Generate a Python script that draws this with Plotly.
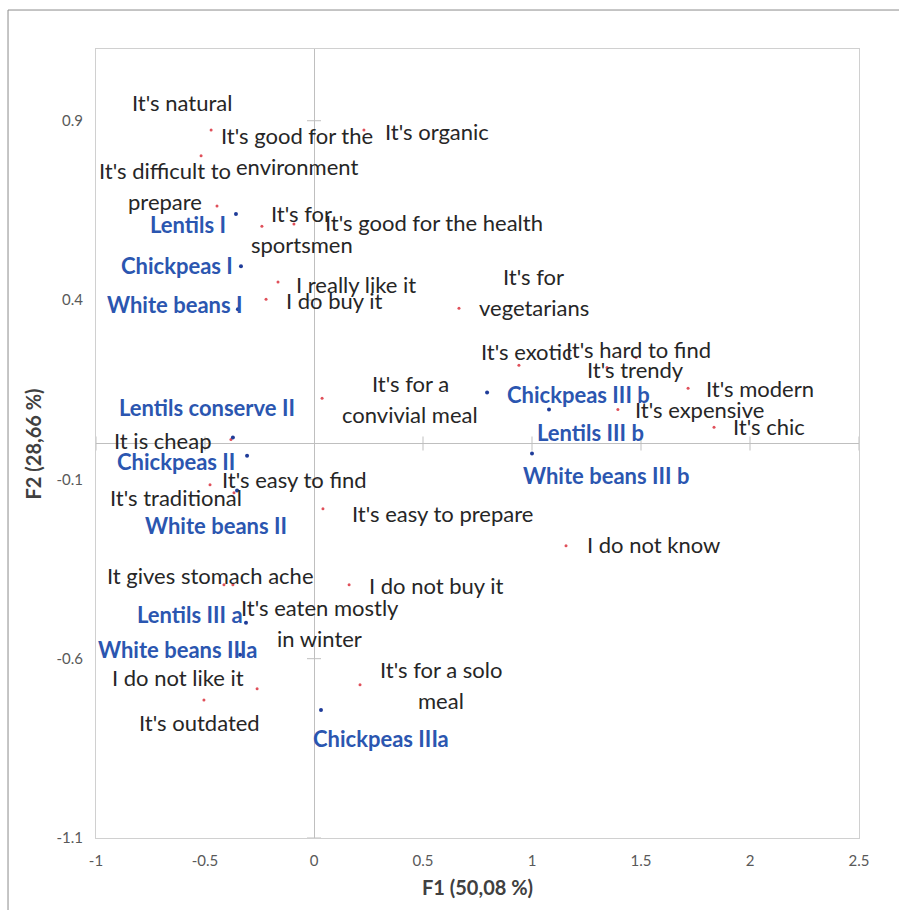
import plotly.graph_objects as go

# ---------------- data ----------------
attr_names = [
    "It's natural", "It's good for the\nenvironment", "It's organic",
    "It's difficult to\nprepare", "It's for\nsportsmen", "It's good for the health",
    "I really like it", "I do buy it", "It's for\nvegetarians",
    "It's exotic", "It's hard to find", "It's trendy", "It's modern",
    "It's expensive", "It's chic", "It's for a\nconvivial meal",
    "It is cheap", "It's easy to find", "It's traditional",
    "It's easy to prepare", "I do not know", "It gives stomach ache",
    "It's eaten mostly\nin winter", "I do not buy it", "I do not like it",
    "It's for a solo\nmeal", "It's outdated",
]
attr_x = [-0.518, -0.472, 0.229, -0.445, -0.239, -0.092, -0.165, -0.220, 0.665,
          0.940, 1.477, 1.344, 1.716, 1.394, 1.835, 0.037, -0.381, -0.477,
          -0.367, 0.041, 1.156, -0.413, -0.372, 0.161, -0.261, 0.211, -0.505]
attr_y = [0.802, 0.874, 0.874, 0.662, 0.606, 0.612, 0.450, 0.402, 0.377,
          0.218, 0.240, 0.212, 0.154, 0.095, 0.045, 0.126, 0.011, -0.115,
          -0.137, -0.182, -0.285, -0.394, -0.394, -0.394, -0.684, -0.673, -0.715]

prod_names = [
    "Lentils I", "Chickpeas I", "White beans I", "Lentils conserve II",
    "Chickpeas II", "White beans II", "Lentils III a", "White beans IIIa",
    "Chickpeas IIIa", "Chickpeas III b", "Lentils III b", "White beans III b",
]
prod_x = [-0.358, -0.335, -0.349, -0.372, -0.307, -0.353, -0.312, -0.339,
          0.032, 0.794, 1.078, 1.000]
prod_y = [0.640, 0.494, 0.374, 0.017, -0.034, -0.131, -0.500, -0.589,
          -0.743, 0.142, 0.095, -0.028]

x_ticks = [-1, -0.5, 0, 0.5, 1, 1.5, 2, 2.5]
x_ticktext = ["-1", "-0.5", "0", "0.5", "1", "1.5", "2", "2.5"]
y_ticks = [-1.1, -0.6, -0.1, 0.4, 0.9]
y_ticktext = ["-1.1", "-0.6", "-0.1", "0.4", "0.9"]

x_title = "F1 (50,08 %)"
y_title = "F2 (28,66 %)"

# ---------------- label placement (pixel offsets of label centre from point) ----
attr_label_offsets = [
    (-19, -53), (86, 21), (73, 1), (-52, -20), (40, 3), (140, -2),
    (78, 2), (68, 1), (75, -16), (8, -14), (3, -8), (29, 2), (72, 0),
    (82, 0), (55, -1), (88, 1), (-68, 1), (84, -5), (-58, 5), (120, 5),
    (87, -1), (-13, -9), (87, 38), (87, 1), (-79, -11), (81, 0), (-4, 23),
]
prod_label_offsets = [
    (-48, 11), (-64, -1), (-63, -5), (-26, -30), (-71, 6), (-21, 35),
    (-56, -8), (-63, -5), (60, 29), (91, 2), (41, 23), (74, 22),
]
LINE_GAP = 31
FONT = "Lato"
LABEL_SIZE = 22
TEXT_COLOR = "#262626"
BLUE_TEXT = "#2B56B0"
AXIS_GRAY = "#BFBFBF"

fig = go.Figure()

# tick marks crossing the zero axes (Excel style)
fig.add_trace(go.Scatter(
    x=[v for v in x_ticks if v != 0], y=[0] * (len(x_ticks) - 1),
    mode="markers", hoverinfo="skip", showlegend=False,
    marker=dict(symbol="line-ns", size=10, color=AXIS_GRAY,
                line=dict(color=AXIS_GRAY, width=1)),
))
fig.add_trace(go.Scatter(
    x=[0] * len(y_ticks), y=y_ticks,
    mode="markers", hoverinfo="skip", showlegend=False,
    marker=dict(symbol="line-ew", size=10, color=AXIS_GRAY,
                line=dict(color=AXIS_GRAY, width=1)),
))

fig.add_trace(go.Scatter(
    x=attr_x, y=attr_y, mode="markers", showlegend=False,
    marker=dict(color="#E0505A", size=3), text=attr_names, hoverinfo="text",
))
fig.add_trace(go.Scatter(
    x=prod_x, y=prod_y, mode="markers", showlegend=False,
    marker=dict(color="#1F3C99", size=4), text=prod_names, hoverinfo="text",
))


def add_labels(names, xs, ys, offsets, color, bold):
    for name, x, y, (dx, dy) in zip(names, xs, ys, offsets):
        lines = name.split("\n")
        n = len(lines)
        for i, line in enumerate(lines):
            ly = dy + (i - (n - 1) / 2) * LINE_GAP
            txt = f"<b>{line}</b>" if bold else line
            fig.add_annotation(
                x=x, y=y, xref="x", yref="y", text=txt, showarrow=False,
                xanchor="center", yanchor="middle", xshift=dx, yshift=-ly,
                font=dict(family=FONT, size=LABEL_SIZE, color=color),
            )


add_labels(attr_names, attr_x, attr_y, attr_label_offsets, TEXT_COLOR, False)
add_labels(prod_names, prod_x, prod_y, prod_label_offsets, BLUE_TEXT, True)

# axis titles
fig.add_annotation(x=0.5, y=-0.062, xref="paper", yref="paper", text=f"<b>{x_title}</b>",
                   showarrow=False, xanchor="center", yanchor="middle",
                   font=dict(family=FONT, size=20, color="#404040"))
fig.add_annotation(x=-0.0826, y=0.5, xref="paper", yref="paper", text=f"<b>{y_title}</b>",
                   showarrow=False, xanchor="center", yanchor="middle", textangle=-90,
                   font=dict(family=FONT, size=20, color="#404040"))

# outer chart frame
fig.add_shape(type="rect", xref="paper", yref="paper",
              x0=-0.1153, y0=-0.11, x1=1.07, y1=1.0494,
              line=dict(color="#8C8C8C", width=1), fillcolor="rgba(0,0,0,0)", layer="below")

axis_common = dict(
    showgrid=False, zeroline=True, zerolinecolor=AXIS_GRAY, zerolinewidth=1,
    showline=True, mirror=True, linecolor="#D0D0D0", linewidth=1,
    ticks="outside", ticklen=9, tickcolor="rgba(0,0,0,0)",
    tickfont=dict(family=FONT, size=15, color="#595959"),
)
fig.update_xaxes(range=[-1, 2.5], tickvals=x_ticks, ticktext=x_ticktext, **axis_common)
fig.update_yaxes(range=[-1.1, 1.1], tickvals=y_ticks, ticktext=y_ticktext, **axis_common)

fig.update_layout(
    width=899, height=910,
    margin=dict(l=96, r=40, t=49, b=72),
    paper_bgcolor="white", plot_bgcolor="white",
    showlegend=False,
)

fig.write_html("out.html", config={"displayModeBar": False},
               post_script="document.body.style.margin='0';document.body.style.overflow='hidden';")
